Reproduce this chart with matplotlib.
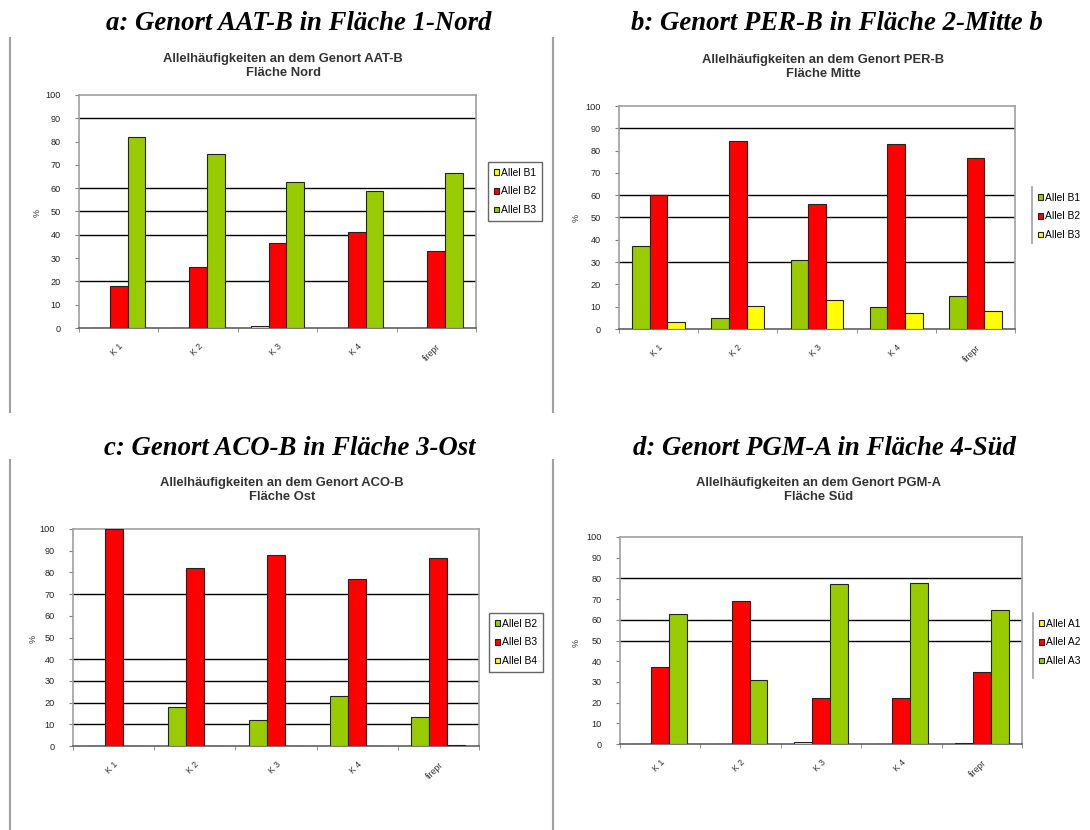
import matplotlib
matplotlib.use("Agg")
import matplotlib.pyplot as plt
from matplotlib.lines import Line2D
import numpy as np

# ---------------- data ----------------
categories = ["K 1", "K 2", "K 3", "K 4", "firepr"]

a_title = "a: Genort AAT-B in Fläche 1-Nord"
a_sub = "Allelhäufigkeiten an dem Genort AAT-B\nFläche Nord"
a_labels = ["Allel B1", "Allel B2", "Allel B3"]
a_B1 = [0, 0, 1, 0, 0]
a_B2 = [18, 26, 36.5, 41, 33]
a_B3 = [82, 74.5, 62.5, 59, 66.5]
a_grid = [20, 40, 50, 60, 90]

b_title = "b: Genort PER-B in Fläche 2-Mitte b"
b_sub = "Allelhäufigkeiten an dem Genort PER-B\nFläche Mitte"
b_labels = ["Allel B1", "Allel B2", "Allel B3"]
b_B1 = [37, 5, 31, 10, 15]
b_B2 = [60, 84.5, 56, 83, 76.5]
b_B3 = [3, 10.5, 13, 7, 8]
b_grid = [30, 50, 60, 90]

c_title = "c: Genort ACO-B in Fläche 3-Ost"
c_sub = "Allelhäufigkeiten an dem Genort ACO-B\nFläche Ost"
c_labels = ["Allel B2", "Allel B3", "Allel B4"]
c_B2 = [0, 18, 12, 23, 13.5]
c_B3 = [100, 82, 88, 77, 86.5]
c_B4 = [0, 0, 0, 0, 0.5]
c_grid = [10, 20, 30, 40, 70]

d_title = "d: Genort PGM-A in Fläche 4-Süd"
d_sub = "Allelhäufigkeiten an dem Genort PGM-A\nFläche Süd"
d_labels = ["Allel A1", "Allel A2", "Allel A3"]
d_A1 = [0, 0, 1, 0, 0.5]
d_A2 = [37, 69, 22, 22, 35]
d_A3 = [63, 31, 77.5, 78, 64.5]
d_grid = [50, 60, 80]

RED = "#FF0000"
GREEN = "#99CC00"
YELLOW = "#FFFF00"

W, H = 1090, 830
fig = plt.figure(figsize=(W / 100, H / 100), dpi=100)
SANS = ["Liberation Sans", "DejaVu Sans"]
SERIF = ["Liberation Serif", "DejaVu Serif"]


def fx(x):
    return x / W


def fy(y):
    return 1 - y / H


def vline(x, y0, y1, color="#A0A0A0", lw=1.5):
    fig.add_artist(Line2D([fx(x), fx(x)], [fy(y0), fy(y1)], color=color, lw=lw,
                          transform=fig.transFigure))


def panel(title, tpos, sub, subpos, box, series, colors, labels, grid,
          ylab_pos, leg_box, leg_framed):
    fig.text(fx(tpos[0]), fy(tpos[1]), title, ha="center", va="center",
             family=SERIF, weight="bold", style="italic", fontsize=19.3)
    fig.text(fx(subpos[0]), fy(subpos[1]), sub, ha="center", va="center",
             family=SANS, weight="bold", fontsize=9.4, color="#333333",
             linespacing=1.12)
    l, t, r, b = box
    ax = fig.add_axes([fx(l), fy(b), fx(r) - fx(l), (b - t) / H])
    x = np.arange(len(categories))
    w = 0.222
    handles = []
    for i, (vals, col, lab) in enumerate(zip(series, colors, labels)):
        h = ax.bar(x + (i - 1) * w, vals, width=w, color=col, edgecolor="#222222",
                   linewidth=0.8, label=lab, zorder=3)
        handles.append(h)
    for g in grid:
        ax.axhline(g, color="black", lw=1.0, zorder=2)
    ax.set_xlim(-0.5, len(categories) - 0.5)
    ax.set_ylim(0, 100)
    ax.set_yticks(np.arange(0, 101, 10))
    ax.set_xticks(x)
    ax.set_xticklabels(categories, rotation=45, ha="right", rotation_mode="anchor",
                       family=SANS, fontsize=6.3, color="#333333")
    ax.set_xticks(np.arange(-0.5, len(categories), 1.0), minor=True)
    ax.tick_params(axis="x", which="major", length=0, pad=10)
    ax.tick_params(axis="x", which="minor", length=3, color="#808080", direction="out")
    ax.tick_params(axis="y", length=3, color="#808080", labelsize=6.6,
                   labelcolor="#222222", pad=10)
    for lab in ax.get_yticklabels():
        lab.set_family(SANS)
    for s in ["top", "right", "left"]:
        ax.spines[s].set_color("#A0A0A0")
        ax.spines[s].set_linewidth(1.2)
    ax.spines["bottom"].set_color("#606060")
    ax.spines["bottom"].set_linewidth(1.2)
    fig.text(fx(ylab_pos[0]), fy(ylab_pos[1]), "%", rotation=90, ha="center",
             va="center", family=SANS, fontsize=6.5, color="#333333")
    ll, lt, lr, lb = leg_box
    leg = ax.legend(handles=handles, labels=labels, loc="upper left",
                    bbox_to_anchor=(fx(ll), fy(lt)),
                    bbox_transform=fig.transFigure, frameon=leg_framed,
                    fancybox=False, prop={"family": SANS, "size": 7.4},
                    handlelength=0.5, handleheight=0.5, handletextpad=0.2,
                    labelspacing=0.85, borderpad=0.55, borderaxespad=0)
    if leg_framed:
        fr = leg.get_frame()
        fr.set_edgecolor("#404040")
        fr.set_linewidth(1.0)
    else:
        vline(ll, lt, lb, color="#A0A0A0", lw=1.2)
    return ax


# panel a
panel(a_title, (299, 23), a_sub, (283, 66), (79, 95, 476, 328),
      [a_B1, a_B2, a_B3], [YELLOW, RED, GREEN], a_labels, a_grid,
      (37, 213), (488, 162, 547, 219), True)
# panel b
panel(b_title, (837, 23), b_sub, (823, 67), (619, 106, 1015, 329),
      [b_B1, b_B2, b_B3], [GREEN, RED, YELLOW], b_labels, b_grid,
      (576, 218), (1032, 187, 1088, 243), False)
# panel c
panel(c_title, (290, 448), c_sub, (282, 490), (73, 529, 479, 746),
      [c_B2, c_B3, c_B4], [GREEN, RED, YELLOW], c_labels, c_grid,
      (33, 639), (489, 613, 547, 671), True)
# panel d
panel(d_title, (824, 448), d_sub, (819, 490), (620, 537, 1022, 744),
      [d_A1, d_A2, d_A3], [YELLOW, RED, GREEN], d_labels, d_grid,
      (576, 643), (1033, 613, 1088, 678), False)

# separator lines
vline(10, 38, 412)
vline(553, 38, 412)
vline(10, 460, 830)
vline(553, 460, 830)

fig.savefig("out.png", dpi=100, facecolor="white")
